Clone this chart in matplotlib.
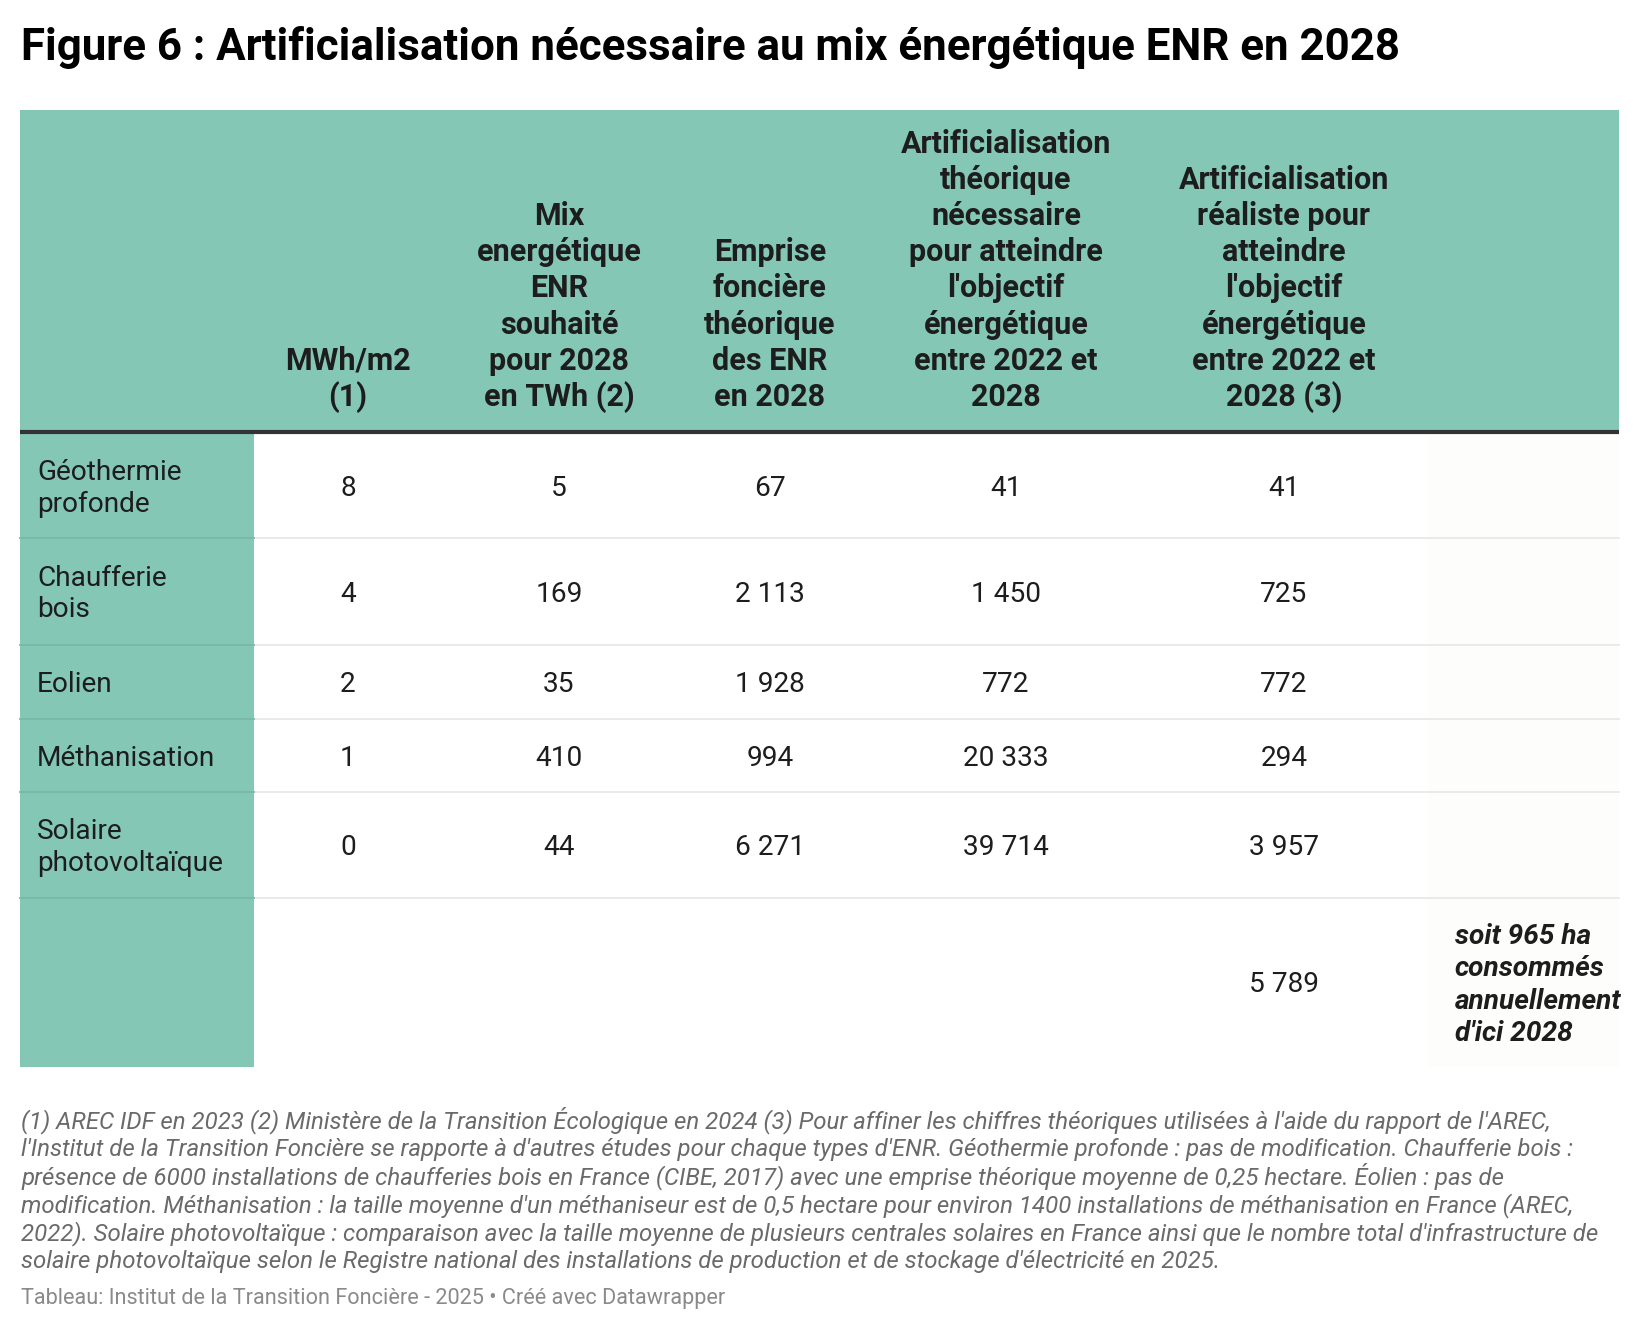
import matplotlib
matplotlib.use("Agg")
import matplotlib.pyplot as plt
from matplotlib.patches import Rectangle

# ---------------- data ----------------
title = "Figure 6 : Artificialisation nécessaire au mix énergétique ENR en 2028"
categories = ["Géothermie\nprofonde", "Chaufferie\nbois", "Eolien", "Méthanisation", "Solaire\nphotovoltaïque"]
mwh_m2 = [8, 4, 2, 1, 0]
mix_twh = [5, 169, 35, 410, 44]
emprise = [67, 2113, 1928, 994, 6271]
artif_theo = [41, 1450, 772, 20333, 39714]
artif_real = [41, 725, 772, 294, 3957]
total_real = 5789
total_note = "soit 965 ha\nconsommés\nannuellement\nd'ici 2028"
headers = [
    "MWh/m2\n(1)",
    "Mix\nenergétique\nENR\nsouhaité\npour 2028\nen TWh (2)",
    "Emprise\nfoncière\nthéorique\ndes ENR\nen 2028",
    "Artificialisation\nthéorique\nnécessaire\npour atteindre\nl'objectif\nénergétique\nentre 2022 et\n2028",
    "Artificialisation\nréaliste pour\natteindre\nl'objectif\nénergétique\nentre 2022 et\n2028 (3)",
]
footnote_lines = [
    "(1) AREC IDF en 2023 (2) Ministère de la Transition Écologique en 2024 (3) Pour affiner les chiffres théoriques utilisées à l'aide du rapport de l'AREC,",
    "l'Institut de la Transition Foncière se rapporte à d'autres études pour chaque types d'ENR. Géothermie profonde : pas de modification. Chaufferie bois :",
    "présence de 6000 installations de chaufferies bois en France (CIBE, 2017) avec une emprise théorique moyenne de 0,25 hectare. Éolien : pas de",
    "modification. Méthanisation : la taille moyenne d'un méthaniseur est de 0,5 hectare pour environ 1400 installations de méthanisation en France (AREC,",
    "2022). Solaire photovoltaïque : comparaison avec la taille moyenne de plusieurs centrales solaires en France ainsi que le nombre total d'infrastructure de",
    "solaire photovoltaïque selon le Registre national des installations de production et de stockage d'électricité en 2025.",
]
source = "Tableau: Institut de la Transition Foncière - 2025 • Créé avec Datawrapper"

# ---------------- style / layout ----------------
GREEN = "#83c7b4"
DARK = "#1d1d1d"
FONT = "Roboto"
BODY_FS = 20.2
HDR_FS = 22.0

W, H = 1640, 1332
fig = plt.figure(figsize=(W / 100, H / 100), dpi=100)
ax = fig.add_axes([0, 0, 1, 1])
ax.set_xlim(0, W)
ax.set_ylim(H, 0)
ax.axis("off")

def fmt(v):
    return f"{v:,}".replace(",", " ")

col_edges = [20, 254, 442, 676, 864, 1148, 1420, 1619]
col_centers = [(col_edges[i] + col_edges[i + 1]) / 2 for i in range(1, 6)]
table_top, header_bottom, table_bottom = 110, 432, 1067
row_edges = [434, 538, 645, 719, 792, 898, table_bottom]

# title
ax.text(21, 60, title, fontsize=31.6, fontweight="bold", family=FONT, color="#000000",
        ha="left", va="baseline")

# header band
ax.add_patch(Rectangle((col_edges[0], table_top), col_edges[-1] - col_edges[0],
                       header_bottom - table_top, facecolor=GREEN, edgecolor="none", zorder=1))
ax.plot([col_edges[0], col_edges[-1]], [header_bottom, header_bottom], color="#333333",
        lw=3, solid_capstyle="butt", zorder=3)

# first column background
ax.add_patch(Rectangle((col_edges[0], header_bottom + 1.5), col_edges[1] - col_edges[0],
                       table_bottom - header_bottom - 1.5, facecolor=GREEN, edgecolor="none", zorder=1))
# faint last column background
ax.add_patch(Rectangle((col_edges[6] + 8, header_bottom + 1.5), col_edges[7] - col_edges[6] - 8,
                       table_bottom - header_bottom - 1.5, facecolor="#fdfdfb", edgecolor="none", zorder=1))

# header texts (bottom aligned)
hdr_step = 36.2
hdr_last_base = 406
for cx, htxt in zip(col_centers, headers):
    lines = htxt.split("\n")
    n = len(lines)
    for i, ln in enumerate(lines):
        y = hdr_last_base - (n - 1 - i) * hdr_step
        ax.text(cx, y, ln, fontsize=HDR_FS, fontweight="bold", family=FONT, color=DARK,
                ha="center", va="baseline", zorder=4)

# row separators
for y in row_edges[1:-1]:
    ax.plot([col_edges[1], col_edges[-1]], [y, y], color="#e8e8e8", lw=1.3, zorder=2)
    ax.plot([col_edges[0], col_edges[1]], [y, y], color="#77b9a7", lw=1.3, zorder=2)

# body rows
columns = [mwh_m2, mix_twh, emprise, artif_theo, artif_real]
label_step = 31.5
for r, cat in enumerate(categories):
    yc = (row_edges[r] + row_edges[r + 1]) / 2
    base = yc + 10
    lines = cat.split("\n")
    n = len(lines)
    for i, ln in enumerate(lines):
        yb = base + (i - (n - 1) / 2) * label_step
        ax.text(37, yb, ln, fontsize=BODY_FS, family=FONT, color=DARK, ha="left", va="baseline", zorder=4)
    for c, vals in enumerate(columns):
        ax.text(col_centers[c], base, fmt(vals[r]), fontsize=BODY_FS, family=FONT, color=DARK,
                ha="center", va="baseline", zorder=4)

# total row
yc = (row_edges[-2] + row_edges[-1]) / 2
ax.text(col_centers[4], yc + 10, fmt(total_real), fontsize=BODY_FS, family=FONT, color=DARK,
        ha="center", va="baseline", zorder=4)
clip = Rectangle((col_edges[6], row_edges[-2]), col_edges[7] - col_edges[6],
                 row_edges[-1] - row_edges[-2], transform=ax.transData, facecolor="none", edgecolor="none")
ax.add_patch(clip)
note_lines = total_note.split("\n")
for i, ln in enumerate(note_lines):
    yb = yc + 10 + (i - (len(note_lines) - 1) / 2) * 32.5
    t = ax.text(1455, yb, ln, fontsize=BODY_FS, fontweight="bold", fontstyle="italic", family=FONT,
                color=DARK, ha="left", va="baseline", zorder=4)
    t.set_clip_path(clip)

# footnotes
for i, ln in enumerate(footnote_lines):
    ax.text(21, 1128 + i * 28, ln, fontsize=17.3, fontstyle="italic", family=FONT, color="#6a6a6a",
            ha="left", va="baseline")

ax.text(21, 1304, source, fontsize=15.6, family=FONT, color="#8a8a8a", ha="left", va="baseline")

fig.savefig("out.png", dpi=100, facecolor="white")
